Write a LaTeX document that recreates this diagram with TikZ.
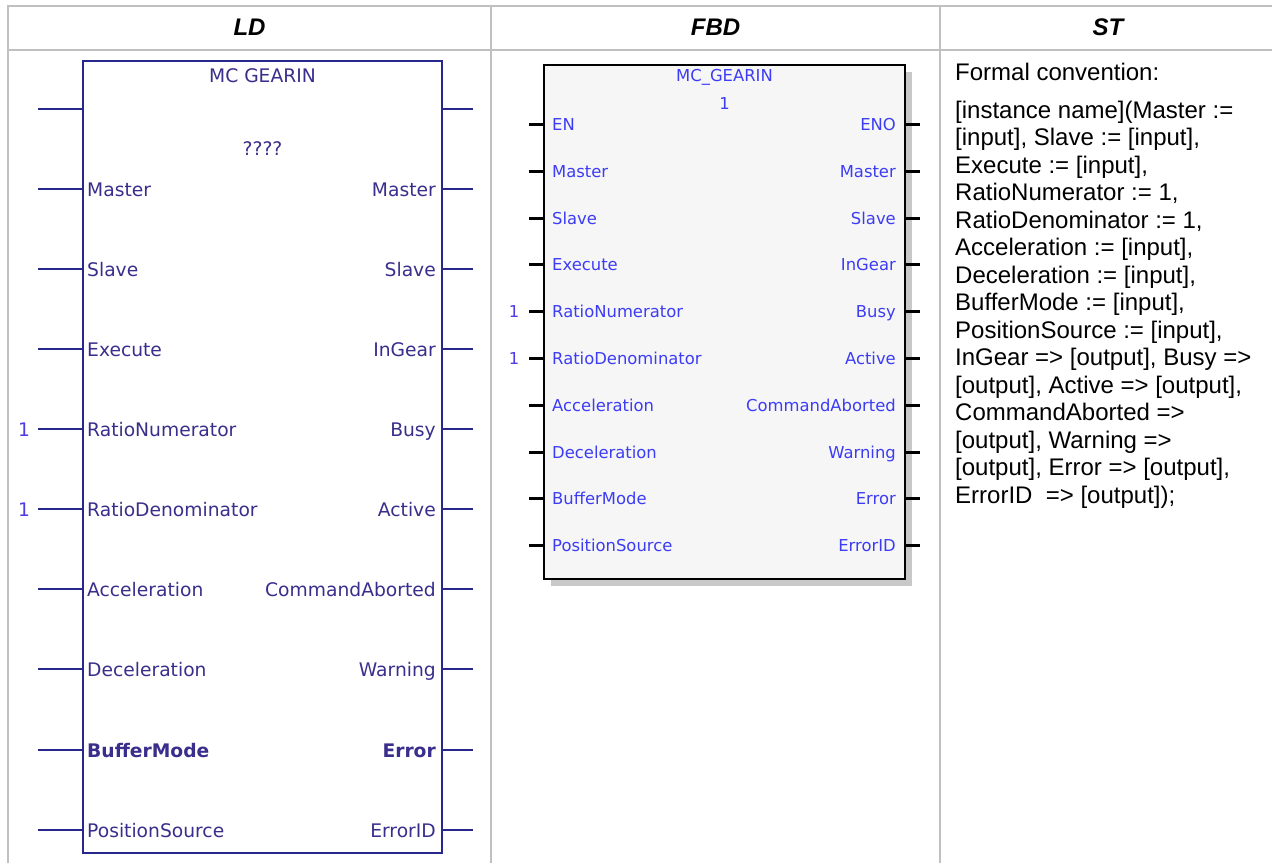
\documentclass[tikz,border=0pt]{standalone}
\usepackage{fontspec}
\setmainfont{Liberation Sans}
\newfontfamily\pinfont{DejaVu Sans}
\definecolor{gridgray}{RGB}{192,192,192}
\definecolor{ldline}{RGB}{40,40,140}
\definecolor{ldtext}{RGB}{58,46,140}
\definecolor{onetext}{RGB}{80,60,230}
\definecolor{fbdtext}{RGB}{60,60,245}
\definecolor{fbdfill}{RGB}{246,246,246}
\definecolor{fbdshadow}{RGB}{200,200,200}

\begin{document}
\begin{tikzpicture}[x=1pt,y=1pt,
  grid-rule/.style={draw=gridgray,line width=2pt},
  head-label/.style={font=\fontsize{24}{28}\selectfont\bfseries\itshape,inner sep=0pt},
  ld-line/.style={draw=ldline,line width=2pt},
  ld-label/.style={font=\pinfont\fontsize{18.7}{22}\selectfont,text=ldtext,inner sep=0pt},
  fbd-line/.style={draw=black,line width=3pt},
  fbd-label/.style={font=\pinfont\fontsize{16.4}{20}\selectfont,text=fbdtext,inner sep=0pt},
  one-label/.style={inner sep=0pt,text=onetext}]
\useasboundingbox (0,0) rectangle (1272,-863);
\path[fill=white,draw=none] (0,0) rectangle (1272,-863);
% table
\draw[grid-rule] (8,-863) -- (8,-6) -- (1272,-6);
\draw[grid-rule] (8,-50) -- (1272,-50);
\draw[grid-rule] (491,-6) -- (491,-863);
\draw[grid-rule] (940,-6) -- (940,-863);
\node[head-label] (head-ld) at (249.5,-27) {LD};
\node[head-label] (head-fbd) at (715.5,-27) {FBD};
\node[head-label] (head-st) at (1108,-27) {ST};
% LD block
\node[ld-line,minimum width=359pt,minimum height=792pt,inner sep=0pt,outer sep=0pt] (ld-block) at (262.5,-457) {};
\node[ld-label,anchor=base] (ld-title) at (262.5,-82) {MC GEARIN};
\node[ld-label,anchor=base] (ld-instance) at (262.5,-155) {????};
\coordinate (ld-in-0) at (38,-109);
\coordinate (ld-in-1) at (38,-189);
\coordinate (ld-in-2) at (38,-269);
\coordinate (ld-in-3) at (38,-349);
\coordinate (ld-in-4) at (38,-429);
\coordinate (ld-in-5) at (38,-509);
\coordinate (ld-in-6) at (38,-589);
\coordinate (ld-in-7) at (38,-669);
\coordinate (ld-in-8) at (38,-750);
\coordinate (ld-in-9) at (38,-830);
\coordinate (ld-out-0) at (473,-109);
\coordinate (ld-out-1) at (473,-189);
\coordinate (ld-out-2) at (473,-269);
\coordinate (ld-out-3) at (473,-349);
\coordinate (ld-out-4) at (473,-429);
\coordinate (ld-out-5) at (473,-509);
\coordinate (ld-out-6) at (473,-589);
\coordinate (ld-out-7) at (473,-669);
\coordinate (ld-out-8) at (473,-750);
\coordinate (ld-out-9) at (473,-830);
\draw[ld-line] (ld-in-0) -- (ld-in-0 -| ld-block.west);
\draw[ld-line] (ld-in-1) -- (ld-in-1 -| ld-block.west);
\draw[ld-line] (ld-in-2) -- (ld-in-2 -| ld-block.west);
\draw[ld-line] (ld-in-3) -- (ld-in-3 -| ld-block.west);
\draw[ld-line] (ld-in-4) -- (ld-in-4 -| ld-block.west);
\draw[ld-line] (ld-in-5) -- (ld-in-5 -| ld-block.west);
\draw[ld-line] (ld-in-6) -- (ld-in-6 -| ld-block.west);
\draw[ld-line] (ld-in-7) -- (ld-in-7 -| ld-block.west);
\draw[ld-line] (ld-in-8) -- (ld-in-8 -| ld-block.west);
\draw[ld-line] (ld-in-9) -- (ld-in-9 -| ld-block.west);
\draw[ld-line] (ld-out-0) -- (ld-out-0 -| ld-block.east);
\draw[ld-line] (ld-out-1) -- (ld-out-1 -| ld-block.east);
\draw[ld-line] (ld-out-2) -- (ld-out-2 -| ld-block.east);
\draw[ld-line] (ld-out-3) -- (ld-out-3 -| ld-block.east);
\draw[ld-line] (ld-out-4) -- (ld-out-4 -| ld-block.east);
\draw[ld-line] (ld-out-5) -- (ld-out-5 -| ld-block.east);
\draw[ld-line] (ld-out-6) -- (ld-out-6 -| ld-block.east);
\draw[ld-line] (ld-out-7) -- (ld-out-7 -| ld-block.east);
\draw[ld-line] (ld-out-8) -- (ld-out-8 -| ld-block.east);
\draw[ld-line] (ld-out-9) -- (ld-out-9 -| ld-block.east);
\node[ld-label,anchor=base west] (ld-in-label-1) at (87,-196) {Master};
\node[ld-label,anchor=base west] (ld-in-label-2) at (87,-276) {Slave};
\node[ld-label,anchor=base west] (ld-in-label-3) at (87,-356) {Execute};
\node[ld-label,anchor=base west] (ld-in-label-4) at (87,-436) {RatioNumerator};
\node[ld-label,anchor=base west] (ld-in-label-5) at (87,-516) {RatioDenominator};
\node[ld-label,anchor=base west] (ld-in-label-6) at (87,-596) {Acceleration};
\node[ld-label,anchor=base west] (ld-in-label-7) at (87,-676) {Deceleration};
\node[ld-label,anchor=base west,font=\pinfont\bfseries\fontsize{18.7}{22}\selectfont] (ld-in-label-8) at (87,-757) {BufferMode};
\node[ld-label,anchor=base west] (ld-in-label-9) at (87,-837) {PositionSource};
\node[ld-label,anchor=base east] (ld-out-label-1) at (436,-196) {Master};
\node[ld-label,anchor=base east] (ld-out-label-2) at (436,-276) {Slave};
\node[ld-label,anchor=base east] (ld-out-label-3) at (436,-356) {InGear};
\node[ld-label,anchor=base east] (ld-out-label-4) at (436,-436) {Busy};
\node[ld-label,anchor=base east] (ld-out-label-5) at (436,-516) {Active};
\node[ld-label,anchor=base east] (ld-out-label-6) at (436,-596) {CommandAborted};
\node[ld-label,anchor=base east] (ld-out-label-7) at (436,-676) {Warning};
\node[ld-label,anchor=base east,font=\pinfont\bfseries\fontsize{18.7}{22}\selectfont] (ld-out-label-8) at (436,-757) {Error};
\node[ld-label,anchor=base east] (ld-out-label-9) at (436,-837) {ErrorID};
\node[ld-label,one-label,anchor=base] (ld-value-4) at (24,-436) {1};
\node[ld-label,one-label,anchor=base] (ld-value-5) at (24,-516) {1};
% FBD block
\path[fill=fbdshadow,draw=none] (551,-72) rectangle (912,-586);
\node[draw=black,fill=fbdfill,line width=2.5pt,minimum width=361pt,minimum height=514pt,inner sep=0pt,outer sep=0pt] (fbd-block) at (724.5,-322) {};
\node[fbd-label,anchor=base] (fbd-title) at (724.5,-81) {MC\_GEARIN};
\node[fbd-label,anchor=base] (fbd-instance) at (724.5,-109) {1};
\coordinate (fbd-in-0) at (529,-124);
\coordinate (fbd-in-1) at (529,-171);
\coordinate (fbd-in-2) at (529,-218);
\coordinate (fbd-in-3) at (529,-264);
\coordinate (fbd-in-4) at (529,-311);
\coordinate (fbd-in-5) at (529,-358);
\coordinate (fbd-in-6) at (529,-405);
\coordinate (fbd-in-7) at (529,-452);
\coordinate (fbd-in-8) at (529,-498);
\coordinate (fbd-in-9) at (529,-545);
\coordinate (fbd-out-0) at (920,-124);
\coordinate (fbd-out-1) at (920,-171);
\coordinate (fbd-out-2) at (920,-218);
\coordinate (fbd-out-3) at (920,-264);
\coordinate (fbd-out-4) at (920,-311);
\coordinate (fbd-out-5) at (920,-358);
\coordinate (fbd-out-6) at (920,-405);
\coordinate (fbd-out-7) at (920,-452);
\coordinate (fbd-out-8) at (920,-498);
\coordinate (fbd-out-9) at (920,-545);
\draw[fbd-line] (fbd-in-0) -- (fbd-in-0 -| fbd-block.west);
\draw[fbd-line] (fbd-in-1) -- (fbd-in-1 -| fbd-block.west);
\draw[fbd-line] (fbd-in-2) -- (fbd-in-2 -| fbd-block.west);
\draw[fbd-line] (fbd-in-3) -- (fbd-in-3 -| fbd-block.west);
\draw[fbd-line] (fbd-in-4) -- (fbd-in-4 -| fbd-block.west);
\draw[fbd-line] (fbd-in-5) -- (fbd-in-5 -| fbd-block.west);
\draw[fbd-line] (fbd-in-6) -- (fbd-in-6 -| fbd-block.west);
\draw[fbd-line] (fbd-in-7) -- (fbd-in-7 -| fbd-block.west);
\draw[fbd-line] (fbd-in-8) -- (fbd-in-8 -| fbd-block.west);
\draw[fbd-line] (fbd-in-9) -- (fbd-in-9 -| fbd-block.west);
\draw[fbd-line] (fbd-out-0) -- (fbd-out-0 -| fbd-block.east);
\draw[fbd-line] (fbd-out-1) -- (fbd-out-1 -| fbd-block.east);
\draw[fbd-line] (fbd-out-2) -- (fbd-out-2 -| fbd-block.east);
\draw[fbd-line] (fbd-out-3) -- (fbd-out-3 -| fbd-block.east);
\draw[fbd-line] (fbd-out-4) -- (fbd-out-4 -| fbd-block.east);
\draw[fbd-line] (fbd-out-5) -- (fbd-out-5 -| fbd-block.east);
\draw[fbd-line] (fbd-out-6) -- (fbd-out-6 -| fbd-block.east);
\draw[fbd-line] (fbd-out-7) -- (fbd-out-7 -| fbd-block.east);
\draw[fbd-line] (fbd-out-8) -- (fbd-out-8 -| fbd-block.east);
\draw[fbd-line] (fbd-out-9) -- (fbd-out-9 -| fbd-block.east);
\node[fbd-label,anchor=base west] (fbd-in-label-0) at (552,-130) {EN};
\node[fbd-label,anchor=base west] (fbd-in-label-1) at (552,-177) {Master};
\node[fbd-label,anchor=base west] (fbd-in-label-2) at (552,-224) {Slave};
\node[fbd-label,anchor=base west] (fbd-in-label-3) at (552,-270) {Execute};
\node[fbd-label,anchor=base west] (fbd-in-label-4) at (552,-317) {RatioNumerator};
\node[fbd-label,anchor=base west] (fbd-in-label-5) at (552,-364) {RatioDenominator};
\node[fbd-label,anchor=base west] (fbd-in-label-6) at (552,-411) {Acceleration};
\node[fbd-label,anchor=base west] (fbd-in-label-7) at (552,-458) {Deceleration};
\node[fbd-label,anchor=base west] (fbd-in-label-8) at (552,-504) {BufferMode};
\node[fbd-label,anchor=base west] (fbd-in-label-9) at (552,-551) {PositionSource};
\node[fbd-label,anchor=base east] (fbd-out-label-0) at (896,-130) {ENO};
\node[fbd-label,anchor=base east] (fbd-out-label-1) at (896,-177) {Master};
\node[fbd-label,anchor=base east] (fbd-out-label-2) at (896,-224) {Slave};
\node[fbd-label,anchor=base east] (fbd-out-label-3) at (896,-270) {InGear};
\node[fbd-label,anchor=base east] (fbd-out-label-4) at (896,-317) {Busy};
\node[fbd-label,anchor=base east] (fbd-out-label-5) at (896,-364) {Active};
\node[fbd-label,anchor=base east] (fbd-out-label-6) at (896,-411) {CommandAborted};
\node[fbd-label,anchor=base east] (fbd-out-label-7) at (896,-458) {Warning};
\node[fbd-label,anchor=base east] (fbd-out-label-8) at (896,-504) {Error};
\node[fbd-label,anchor=base east] (fbd-out-label-9) at (896,-551) {ErrorID};
\node[fbd-label,one-label,anchor=base] (fbd-value-4) at (514,-317) {1};
\node[fbd-label,one-label,anchor=base] (fbd-value-5) at (514,-364) {1};
% ST text
\node[anchor=base west,inner sep=0pt,font=\fontsize{24}{27.5}\selectfont] (st-caption) at (955,-80) {Formal convention:};
\node[anchor=north west,inner sep=0pt,align=left,font=\fontsize{24}{27.5}\selectfont] (st-call) at (955,-100.5) {[instance name](Master :=\\{}[input], Slave := [input],\\Execute := [input],\\RatioNumerator := 1,\\RatioDenominator := 1,\\Acceleration := [input],\\Deceleration := [input],\\BufferMode := [input],\\PositionSource := [input],\\InGear => [output], Busy =>\\{}[output], Active => [output],\\CommandAborted =>\\{}[output], Warning =>\\{}[output], Error => [output],\\ErrorID~ => [output]);};
\end{tikzpicture}
\end{document}
